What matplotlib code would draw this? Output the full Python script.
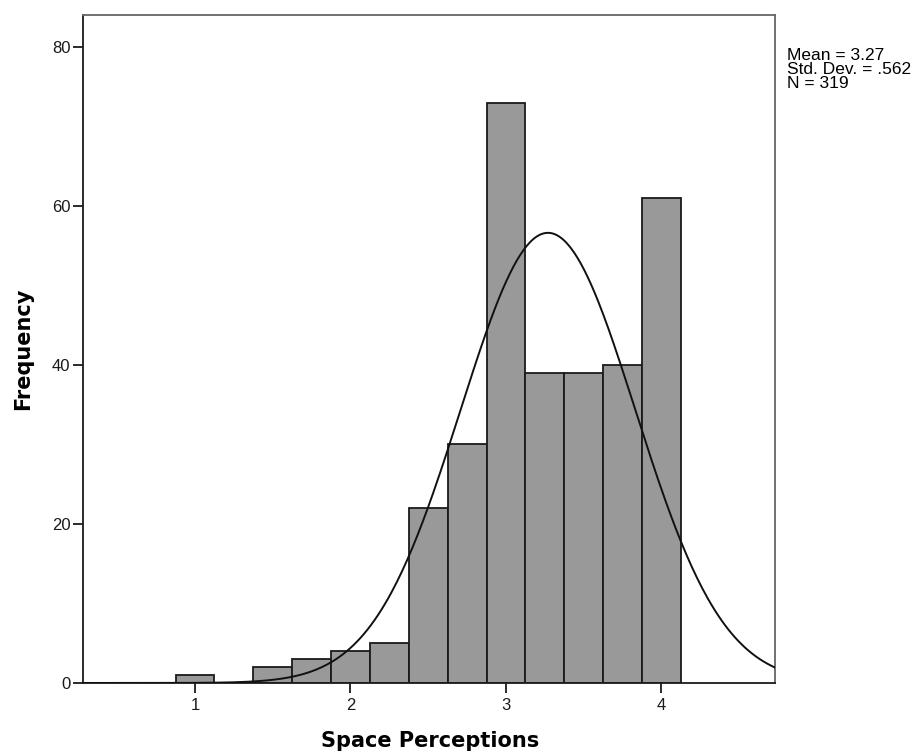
import numpy as np
import matplotlib.pyplot as plt

# Histogram of space perception scores with a fitted normal curve
bin_centers = [1.0, 1.25, 1.5, 1.75, 2.0, 2.25, 2.5, 2.75, 3.0, 3.25, 3.5, 3.75, 4.0]
counts = [1, 0, 2, 3, 4, 5, 22, 30, 73, 39, 39, 40, 61]
bin_width = 0.25
mean = 3.27
std_dev = 0.562
n_obs = 319

plt.rcParams['font.family'] = ['Liberation Sans', 'DejaVu Sans']

fig = plt.figure(figsize=(9.19, 7.53), dpi=100)
ax = fig.add_axes([0.0903, 0.093, 0.7530, 0.887])

ax.bar(bin_centers, counts, width=bin_width, color='#999999',
       edgecolor='#1a1a1a', linewidth=1.3, zorder=2)

# normal curve scaled to counts
xs = np.linspace(0.28, 4.73, 400)
ys = n_obs * bin_width * np.exp(-0.5 * ((xs - mean) / std_dev) ** 2) / (std_dev * np.sqrt(2 * np.pi))
ax.plot(xs, ys, color='#111111', linewidth=1.4, zorder=3)

ax.set_xlim(0.28, 4.73)
ax.set_ylim(0, 84)
ax.set_xticks([1, 2, 3, 4])
ax.set_yticks([0, 20, 40, 60, 80])
ax.tick_params(axis='both', direction='out', length=7, width=1.3,
               labelsize=12, colors='#1a1a1a')
ax.tick_params(axis='x', pad=4)
ax.tick_params(axis='y', pad=2)

for side in ['left', 'bottom']:
    ax.spines[side].set_color('#1a1a1a')
    ax.spines[side].set_linewidth(1.3)
for side in ['top', 'right']:
    ax.spines[side].set_color('#666666')
    ax.spines[side].set_linewidth(1.3)

ax.set_xlabel('Space Perceptions', fontsize=15, fontweight='bold',
              family='DejaVu Sans')
ax.xaxis.set_label_coords(0.501, -0.072)
ax.set_ylabel('Frequency', fontsize=15, fontweight='bold',
              family='DejaVu Sans')
ax.yaxis.set_label_coords(-0.072, 0.5)

fig.text(0.8565, 0.936,
         'Mean = %.2f\nStd. Dev. = .562\nN = %d' % (mean, n_obs),
         fontsize=12.5, va='top', ha='left', linespacing=0.92)

fig.savefig('out.png', dpi=100)
